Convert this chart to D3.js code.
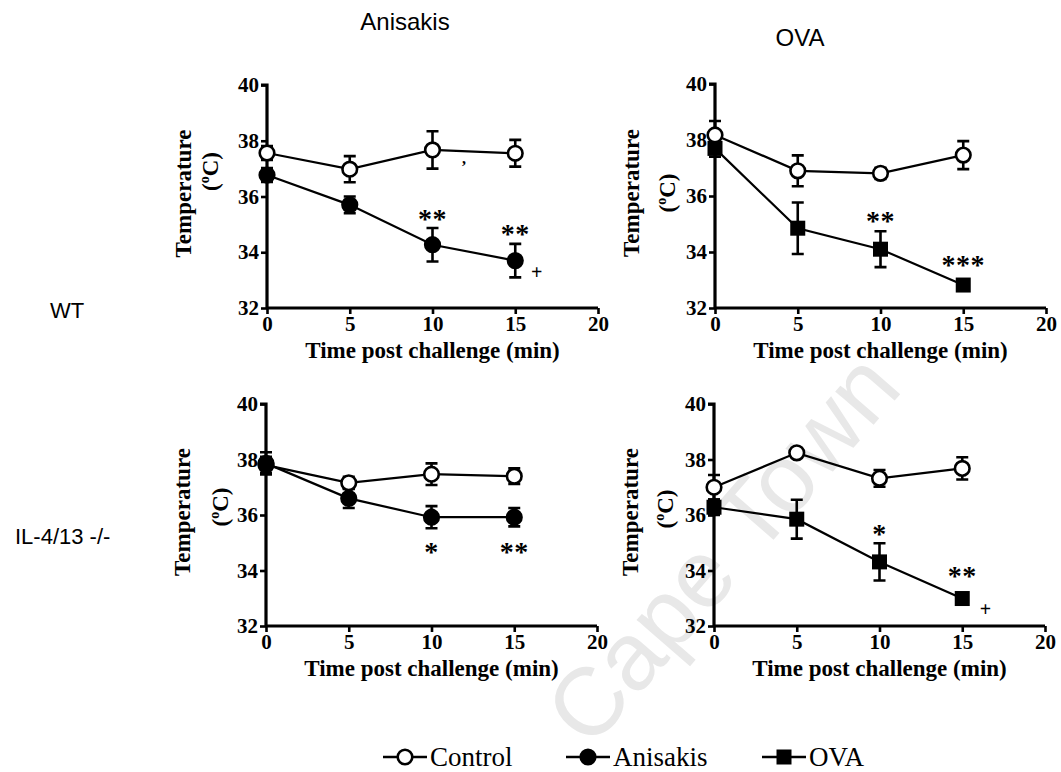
<!DOCTYPE html>
<html>
<head>
<meta charset="utf-8">
<script src="https://cdn.jsdelivr.net/npm/d3@7"></script>
<style>
  html, body { margin: 0; padding: 0; background: #fff; }
  svg { display: block; }
</style>
</head>
<body>
<svg id="chart" width="1061" height="772"></svg>
<script>
// Time points (min) and axis ticks
const times = [0, 5, 10, 15];
const xTicks = [0, 5, 10, 15, 20];
const yTicks = [32, 34, 36, 38, 40];

// WT mice, Anisakis challenge (mean, SEM)
const wtAniControl = [37.56, 36.98, 37.67, 37.55];
const wtAniControlErr = [0.25, 0.47, 0.67, 0.48];
const wtAniTreated = [36.77, 35.70, 34.27, 33.70];
const wtAniTreatedErr = [0.25, 0.30, 0.60, 0.60];

// WT mice, OVA challenge
const wtOvaControl = [38.18, 36.90, 36.81, 37.46];
const wtOvaControlErr = [0.50, 0.55, 0.20, 0.50];
const wtOvaTreated = [37.70, 34.85, 34.10, 32.82];
const wtOvaTreatedErr = [0.30, 0.92, 0.64, 0.05];

// IL-4/13 -/- mice, Anisakis challenge
const koAniControl = [37.80, 37.16, 37.47, 37.40];
const koAniControlErr = [0.30, 0.22, 0.39, 0.28];
const koAniTreated = [37.86, 36.60, 35.92, 35.92];
const koAniTreatedErr = [0.40, 0.35, 0.40, 0.33];

// IL-4/13 -/- mice, OVA challenge
const koOvaControl = [37.00, 38.24, 37.32, 37.68];
const koOvaControlErr = [0.44, 0.05, 0.30, 0.40];
const koOvaTreated = [36.28, 35.85, 34.31, 32.99];
const koOvaTreatedErr = [0.28, 0.70, 0.67, 0.05];

// Significance marks: [time, temperature, label]
const wtAniMarks = [[10, 35.41, "**"], [15, 34.87, "**"], [16.3, 33.26, "+"], [11.9, 37.15, ","]];
const wtOvaMarks = [[10, 35.32, "**"], [15, 33.75, "***"]];
const koAniMarks = [[10, 34.85, "*"], [15, 34.87, "**"]];
const koOvaMarks = [[10, 35.52, "*"], [15, 34.00, "**"], [16.4, 32.57, "+"]];

const columnTitles = ["Anisakis", "OVA"];
const rowTitles = ["WT", "IL-4/13 -/-"];
const legendLabels = ["Control", "Anisakis", "OVA"];

const svg = d3.select("#chart");
const serif = "'Liberation Serif', 'Times New Roman', serif";
const sans = "'Liberation Sans', Arial, sans-serif";

// Watermark behind everything
svg.append("text")
  .attr("transform", "translate(722,548) rotate(-49)")
  .attr("text-anchor", "middle")
  .attr("dominant-baseline", "central")
  .attr("font-family", sans)
  .attr("font-size", 96)
  .attr("fill", "#e8e8e8")
  .text("Cape Town");

const panels = [
  { left: 267, top: 85, bottom: 308, marker: "circle",
    control: wtAniControl, controlErr: wtAniControlErr,
    treated: wtAniTreated, treatedErr: wtAniTreatedErr, marks: wtAniMarks,
    unitDx: -57, unitDy: -22 },
  { left: 715, top: 84, bottom: 308, marker: "square",
    control: wtOvaControl, controlErr: wtOvaControlErr,
    treated: wtOvaTreated, treatedErr: wtOvaTreatedErr, marks: wtOvaMarks,
    unitDx: -48, unitDy: 0 },
  { left: 266, top: 404, bottom: 626, marker: "circle",
    control: koAniControl, controlErr: koAniControlErr,
    treated: koAniTreated, treatedErr: koAniTreatedErr, marks: koAniMarks,
    unitDx: -46, unitDy: -5 },
  { left: 714, top: 404, bottom: 626, marker: "square",
    control: koOvaControl, controlErr: koOvaControlErr,
    treated: koOvaTreated, treatedErr: koOvaTreatedErr, marks: koOvaMarks,
    unitDx: -49, unitDy: -3 }
];

const plotWidth = 331;

function drawMarker(g, type, x, y, filled) {
  if (type === "circle") {
    g.append("circle").attr("cx", x).attr("cy", y).attr("r", 7.3)
      .attr("fill", filled ? "#000" : "#fff")
      .attr("stroke", "#000").attr("stroke-width", 2.6);
  } else {
    g.append("rect").attr("x", x - 7.5).attr("y", y - 7.5)
      .attr("width", 15).attr("height", 15).attr("fill", "#000");
  }
}

panels.forEach(p => {
  const x = d3.scaleLinear().domain([0, 20]).range([p.left, p.left + plotWidth]);
  const y = d3.scaleLinear().domain([32, 40]).range([p.bottom, p.top]);
  const g = svg.append("g");

  // Axes
  const yAxis = g.append("g").attr("transform", `translate(${p.left},0)`)
    .call(d3.axisLeft(y).tickValues(yTicks).tickSize(6).tickPadding(2));
  const xAxis = g.append("g").attr("transform", `translate(0,${p.bottom})`)
    .call(d3.axisBottom(x).tickValues(xTicks).tickSize(6).tickPadding(2));
  [yAxis, xAxis].forEach(a => {
    a.select(".domain").attr("stroke-width", 3.2).attr("stroke", "#000");
    a.selectAll(".tick line").attr("stroke-width", 2.6).attr("stroke", "#000");
    a.selectAll(".tick text").attr("font-family", serif).attr("font-weight", "bold")
      .attr("font-size", 21).attr("fill", "#000");
  });
  yAxis.select(".domain").attr("d", `M-6,${y(40)}H0V${y(32)}`);
  xAxis.select(".domain").attr("d", `M${x(0)},0H${x(20)}`);

  // Axis titles
  g.append("text")
    .attr("x", (x(0) + x(20)) / 2).attr("y", p.bottom + 50)
    .attr("text-anchor", "middle")
    .attr("font-family", serif).attr("font-weight", "bold").attr("font-size", 23)
    .text("Time post challenge (min)");
  const yMid = (p.top + p.bottom) / 2 - 3;
  g.append("text")
    .attr("transform", `translate(${p.left - 76},${yMid}) rotate(-90)`)
    .attr("text-anchor", "middle")
    .attr("font-family", serif).attr("font-weight", "bold").attr("font-size", 23)
    .text("Temperature");
  const unit = g.append("text")
    .attr("transform", `translate(${p.left + p.unitDx + 8},${yMid + p.unitDy}) rotate(-90)`)
    .attr("text-anchor", "middle")
    .attr("font-family", serif).attr("font-weight", "bold").attr("font-size", 23);
  unit.append("tspan").text("(");
  unit.append("tspan").attr("font-size", 14).attr("dy", -9).text("o");
  unit.append("tspan").attr("dy", 9).text("C)");

  const series = [
    { vals: p.control, errs: p.controlErr, type: "circle", filled: false },
    { vals: p.treated, errs: p.treatedErr, type: p.marker, filled: true }
  ];

  const line = d3.line().x((d, i) => x(times[i])).y(d => y(d));

  series.forEach(s => {
    // Error bars (mean ± SEM)
    s.vals.forEach((v, i) => {
      const cx = x(times[i]);
      const y1 = y(v + s.errs[i]), y2 = y(v - s.errs[i]);
      g.append("path")
        .attr("d", `M${cx},${y1}V${y2}M${cx - 6},${y1}H${cx + 6}M${cx - 6},${y2}H${cx + 6}`)
        .attr("stroke", "#000").attr("stroke-width", 2.6).attr("fill", "none");
    });
    g.append("path").datum(s.vals).attr("d", line)
      .attr("fill", "none").attr("stroke", "#000").attr("stroke-width", 2.2);
  });
  series.forEach(s => {
    s.vals.forEach((v, i) => drawMarker(g, s.type, x(times[i]), y(v), s.filled));
  });

  // Significance marks
  p.marks.forEach(([t, v, lab]) => {
    const isStar = lab.indexOf("*") >= 0;
    const fs = isStar ? 28 : (lab === "+" ? 20 : 16);
    const off = isStar ? 0.52 * fs : (lab === "+" ? 0.3 * fs : 0);
    g.append("text")
      .attr("x", x(t)).attr("y", y(v) + off)
      .attr("text-anchor", "middle")
      .attr("font-family", serif).attr("font-weight", "bold")
      .attr("font-size", fs).attr("letter-spacing", isStar ? 0.5 : 0)
      .text(lab);
  });
});

// Column and row titles
svg.selectAll(".coltitle").data(columnTitles).join("text")
  .attr("x", (d, i) => [405, 800][i]).attr("y", (d, i) => [30, 46][i])
  .attr("text-anchor", "middle")
  .attr("font-family", sans).attr("font-size", 24)
  .text(d => d);
svg.selectAll(".rowtitle").data(rowTitles).join("text")
  .attr("x", (d, i) => [50, 15][i]).attr("y", (d, i) => [318, 544][i])
  .attr("font-family", sans).attr("font-size", 22)
  .text(d => d);

// Legend
const legendX = [383, 566, 762];
const legendY = 757;
legendLabels.forEach((lab, i) => {
  const lg = svg.append("g");
  const x0 = legendX[i];
  lg.append("line").attr("x1", x0).attr("x2", x0 + 44)
    .attr("y1", legendY).attr("y2", legendY)
    .attr("stroke", "#000").attr("stroke-width", 2.6);
  drawMarker(lg, i === 2 ? "square" : "circle", x0 + 22, legendY, i !== 0);
  lg.append("text").attr("x", x0 + 47).attr("y", legendY + 9)
    .attr("font-family", serif).attr("font-size", 27)
    .text(lab);
});
</script>
</body>
</html>
